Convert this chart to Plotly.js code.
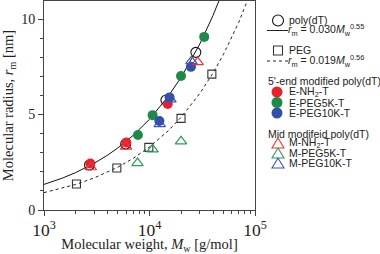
<!DOCTYPE html>
<html>
<head>
<meta charset="utf-8">
<script src="https://cdn.plot.ly/plotly-3.0.1.min.js"></script>
<style>
  html, body { margin: 0; padding: 0; background: #fff; }
  #chart { width: 380px; height: 254px; }
</style>
</head>
<body>
<div id="chart"></div>
<script>
// ---------------- data ----------------
const polyM   = [2700, 5950, 14300, 27500];
const polyR   = [2.36, 3.46, 5.76, 8.26];
const pegM    = [2030, 4900, 9850, 19900, 39000];
const pegR    = [1.36, 2.20, 3.28, 4.80, 7.12];
const eNH2M   = [2750, 6030, 14900];
const eNH2R   = [2.44, 3.54, 5.55];
const ePEG5M  = [7770, 10700, 19900, 33000];
const ePEG5R  = [3.93, 4.97, 7.02, 9.07];
const ePEG10M = [12400, 15500, 24700];
const ePEG10R = [4.66, 5.90, 7.50];
const mNH2M   = [2780, 6000, 28600];
const mNH2R   = [2.24, 3.32, 7.75];
const mPEG5M  = [7700, 10700, 19900];
const mPEG5R  = [2.46, 3.18, 3.60];
const mPEG10M = [12500, 15800, 25000];
const mPEG10R = [4.50, 5.80, 7.80];

// fitted power laws stated in the legend: r = a * M^b
const polyFit = {a: 0.030, b: 0.55};
const pegFit  = {a: 0.019, b: 0.56};
const fitM = [1000, 1500, 2000, 3000, 4000, 5000, 7000, 10000, 15000, 20000, 30000, 40000, 50000, 70000, 100000];

const legendLabels = {
  poly: 'poly(dT)',
  polyFit: '<i>r</i><sub>m</sub> = 0.030<i>M</i><sub>w</sub><sup>0.55</sup>',
  peg: 'PEG',
  pegFit: '<i>r</i><sub>m</sub> = 0.019<i>M</i><sub>w</sub><sup>0.56</sup>',
  eTitle: "5'-end modified poly(dT)",
  eNH2: 'E-NH<sub>2</sub>-T',
  ePEG5: 'E-PEG5K-T',
  ePEG10: 'E-PEG10K-T',
  mTitle: 'Mid modifeid poly(dT)',
  mNH2: 'M-NH<sub>2</sub>-T',
  mPEG5: 'M-PEG5K-T',
  mPEG10: 'M-PEG10K-T'
};

// ---------------- styles ----------------
const RED = '#e8212b', GREEN = '#1f8a48', BLUE = '#3150a6';
const RED_T = '#f0303a', GREEN_T = '#2f9a5c', BLUE_T = '#3a56b2';
const DARK = '#333333';

// ---------------- layout geometry ----------------
const W = 380, H = 254;
const M = {l: 44, r: 125, t: 1, b: 44};
const PW = W - M.l - M.r, PH = H - M.t - M.b;
const px2paper = x => (x - M.l) / PW;
const py2paper = y => (H - M.b - y) / PH;

function fitCurve(f) { return fitM.map(m => f.a * Math.pow(m, f.b)); }

const traces = [
  {x: fitM, y: fitCurve(polyFit), mode: 'lines', line: {color: '#111', width: 1}, hoverinfo: 'skip'},
  {x: fitM, y: fitCurve(pegFit), mode: 'lines', line: {color: '#222', width: 1, dash: '3px,3px'}, hoverinfo: 'skip'},
  {x: pegM, y: pegR, mode: 'markers', marker: {symbol: 'square-open', size: 8, color: DARK, line: {width: 1.1}}},
  {x: polyM, y: polyR, mode: 'markers', marker: {symbol: 'circle-open', size: 10, color: '#111', line: {width: 1.1}}},
  {x: eNH2M, y: eNH2R, mode: 'markers', marker: {symbol: 'circle', size: 10, color: RED}},
  {x: ePEG5M, y: ePEG5R, mode: 'markers', marker: {symbol: 'circle', size: 10, color: GREEN}},
  {x: ePEG10M, y: ePEG10R, mode: 'markers', marker: {symbol: 'circle', size: 10, color: BLUE}},
  {x: mNH2M, y: mNH2R, mode: 'markers', marker: {symbol: 'triangle-up-open', size: 10, color: RED_T, line: {width: 1.2}}},
  {x: mPEG5M, y: mPEG5R, mode: 'markers', marker: {symbol: 'triangle-up-open', size: 10, color: GREEN_T, line: {width: 1.2}}},
  {x: mPEG10M, y: mPEG10R, mode: 'markers', marker: {symbol: 'triangle-up-open', size: 10, color: BLUE_T, line: {width: 1.2}}}
];

// ---------------- legend (decorative, drawn as shapes + annotations) ----------------
const LF = {family: 'Liberation Sans, Arial, sans-serif', size: 10.5, color: '#222'};
const annotations = [];
const shapes = [];
function text(t, x, y) {
  annotations.push({text: t, xref: 'paper', yref: 'paper', x: px2paper(x), y: py2paper(y),
    xanchor: 'left', yanchor: 'middle', showarrow: false, font: LF, borderpad: 0});
}
function circleIcon(x, y, d, color, filled) {
  shapes.push({type: 'circle', xref: 'paper', yref: 'paper', xsizemode: 'pixel', ysizemode: 'pixel',
    xanchor: px2paper(x), yanchor: py2paper(y), x0: -d/2, x1: d/2, y0: -d/2, y1: d/2,
    line: {color: color, width: filled ? 0 : 1.1}, fillcolor: filled ? color : 'rgba(0,0,0,0)'});
}
function squareIcon(x, y, d, color) {
  shapes.push({type: 'rect', xref: 'paper', yref: 'paper', xsizemode: 'pixel', ysizemode: 'pixel',
    xanchor: px2paper(x), yanchor: py2paper(y), x0: -d/2, x1: d/2, y0: -d/2, y1: d/2,
    line: {color: color, width: 1.1}, fillcolor: 'rgba(0,0,0,0)'});
}
function triIcon(x, y, w, h, color) {
  shapes.push({type: 'path', xref: 'paper', yref: 'paper', xsizemode: 'pixel', ysizemode: 'pixel',
    xanchor: px2paper(x), yanchor: py2paper(y),
    path: `M${-w/2},${-h/2} L${w/2},${-h/2} L0,${h/2} Z`,
    line: {color: color, width: 1.1}, fillcolor: 'rgba(0,0,0,0)'});
}
function lineIcon(x0, x1, y, dash) {
  shapes.push({type: 'line', xref: 'paper', yref: 'paper', x0: px2paper(x0), x1: px2paper(x1),
    y0: py2paper(y), y1: py2paper(y), line: {color: '#222', width: 1, dash: dash || 'solid'}});
}

circleIcon(278, 20.5, 11, '#111', false); text(legendLabels.poly, 288, 20);
lineIcon(267, 288, 30.5); text(legendLabels.polyFit, 287, 30);
squareIcon(278, 50.5, 9, DARK); text(legendLabels.peg, 288, 50);
lineIcon(267, 288, 61, '3px,3px'); text(legendLabels.pegFit, 287, 60.5);
text(legendLabels.eTitle, 267, 81.5);
circleIcon(277, 92, 11, RED, true); text(legendLabels.eNH2, 288, 92);
circleIcon(277, 102.5, 11, GREEN, true); text(legendLabels.ePEG5, 288, 102.5);
circleIcon(277, 113, 11, BLUE, true); text(legendLabels.ePEG10, 288, 113);
text(legendLabels.mTitle, 267, 133.5);
triIcon(278, 143, 12, 10, RED_T); text(legendLabels.mNH2, 288, 143);
triIcon(278, 153, 12, 10, GREEN_T); text(legendLabels.mPEG5, 288, 153);
triIcon(278, 163, 12, 10, BLUE_T); text(legendLabels.mPEG10, 288, 163);

const SERIF = {family: 'Liberation Serif, Times New Roman, serif', size: 14, color: '#222'};

const layout = {
  width: W, height: H,
  margin: M,
  paper_bgcolor: '#fff', plot_bgcolor: '#fff',
  showlegend: false,
  xaxis: {
    type: 'log', range: [3, 5], dtick: 1, exponentformat: 'power',
    showgrid: false, zeroline: false, mirror: true, showline: true, linecolor: '#444', linewidth: 1,
    ticks: 'outside', ticklen: 5, tickcolor: '#444', tickfont: SERIF,
    minor: {ticks: 'outside', ticklen: 3, tickcolor: '#444', dtick: 'D1', showgrid: false},
    title: {text: 'Molecular weight, <i>M</i><sub>w</sub> [g/mol]', font: {family: SERIF.family, size: 14.5, color: '#222'}, standoff: 8}
  },
  yaxis: {
    range: [0, 10.95], dtick: 5,
    showgrid: false, zeroline: false, mirror: true, showline: true, linecolor: '#444', linewidth: 1,
    ticks: 'outside', ticklen: 5, tickcolor: '#444', tickfont: SERIF,
    minor: {ticks: 'outside', ticklen: 3, tickcolor: '#444', dtick: 1, showgrid: false},
    title: {text: 'Molecular radius, <i>r</i><sub>m</sub> [nm]', font: {family: SERIF.family, size: 14.5, color: '#222'}, standoff: 5}
  },
  shapes: shapes,
  annotations: annotations
};

Plotly.newPlot('chart', traces, layout, {staticPlot: true, displayModeBar: false});
</script>
</body>
</html>
